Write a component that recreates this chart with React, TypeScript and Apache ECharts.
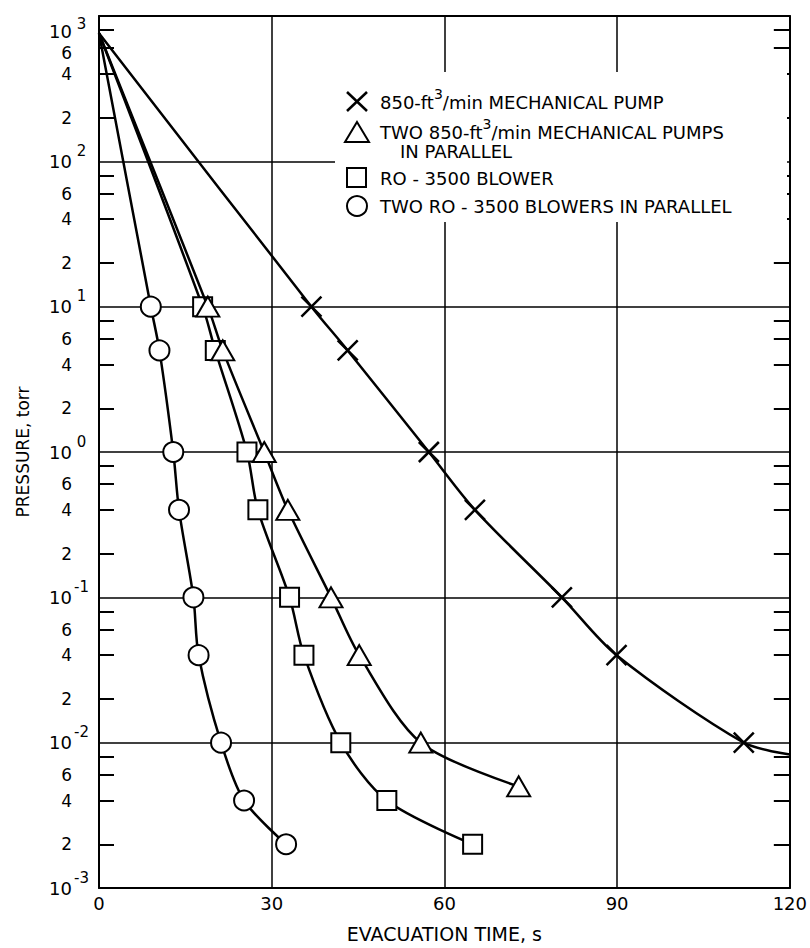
import React, { useEffect, useRef } from 'react';
import * as echarts from 'echarts';

// ---- data ----
const pumpTime = [0, 36.9, 43.2, 57.3, 65.3, 80.4, 89.9, 112, 120];
const pumpPressure = [760, 10, 5, 1, 0.4, 0.1, 0.04, 0.01, 0.0083];
const pumpUnmarked = [0, 8];

const twoPumpTime = [0, 18.9, 21.5, 28.7, 32.8, 40.3, 45.2, 55.9, 72.9];
const twoPumpPressure = [760, 10, 5, 1, 0.4, 0.1, 0.04, 0.01, 0.005];
const twoPumpUnmarked = [0];

const blowerTime = [0, 18.0, 20.2, 25.7, 27.6, 33.1, 35.6, 42.0, 50.0, 64.9];
const blowerPressure = [760, 10, 5, 1, 0.4, 0.1, 0.04, 0.01, 0.004, 0.002];
const blowerUnmarked = [0];

const twoBlowerTime = [0, 9.0, 10.5, 12.9, 13.9, 16.4, 17.3, 21.2, 25.2, 32.5];
const twoBlowerPressure = [760, 10, 5, 1, 0.4, 0.1, 0.04, 0.01, 0.004, 0.002];
const twoBlowerUnmarked = [0];

const decadeTicks = [0.001, 0.01, 0.1, 1, 10, 100, 1000];
const minorTicks = [
  0.002, 0.004, 0.006, 0.008,
  0.02, 0.04, 0.06, 0.08,
  0.2, 0.4, 0.6, 0.8,
  2, 4, 6, 8,
  20, 40, 60, 80,
  200, 400, 600, 800,
];
const mantissaLabels = [
  0.002, 0.004, 0.006,
  0.02, 0.04, 0.06,
  0.2, 0.4, 0.6,
  2, 4, 6,
  20, 40, 60,
  200, 400, 600,
];

const seriesNames = [
  '850-ft³/min MECHANICAL PUMP',
  'TWO 850-ft³/min MECHANICAL PUMPS IN PARALLEL',
  'RO - 3500 BLOWER',
  'TWO RO - 3500 BLOWERS IN PARALLEL',
];

const FONT = 'DejaVu Sans';
const X_PATH = 'path://M0,0L20,20M20,0L0,20';

function buildData(t: number[], p: number[], unmarked: number[]) {
  return t.map((x, i) =>
    unmarked.indexOf(i) >= 0 ? { value: [x, p[i]], symbol: 'none' } : { value: [x, p[i]] }
  );
}

function expOf(v: number) {
  return Math.round(Math.log10(v));
}

function mantissa(v: number) {
  return Math.round(v / Math.pow(10, Math.floor(Math.log10(v) + 1e-9)));
}

export default function App() {
  const ref = useRef<HTMLDivElement>(null);

  useEffect(() => {
    if (!ref.current) return;
    const chart = echarts.init(ref.current, null, { renderer: 'svg' });

    const lineBase = {
      type: 'line',
      smooth: 0.3,
      lineStyle: { color: '#000', width: 2.5 },
      itemStyle: { color: '#fff', borderColor: '#000', borderWidth: 2 },
      showSymbol: true,
      z: 3,
    };

    const legendText = {
      fill: '#000',
      fontFamily: FONT,
      fontSize: 18,
      lineHeight: 30,
      verticalAlign: 'middle',
      align: 'left',
      rich: {
        s: { fontSize: 14, lineHeight: 14, verticalAlign: 'top', fontFamily: FONT, fill: '#000' },
      },
    };
    const mk = { fill: '#fff', stroke: '#000', lineWidth: 2 };
    const LZ = 10;

    const supStyle = {
      fontSize: 15,
      lineHeight: 15,
      verticalAlign: 'top',
      width: 19,
      align: 'left',
      fontFamily: FONT,
      color: '#000',
    };

    const option: any = {
      animation: false,
      backgroundColor: '#fff',
      textStyle: { fontFamily: FONT, color: '#000' },
      grid: { left: 99, right: 3, top: 16, bottom: 57, containLabel: false },
      xAxis: [
        {
          type: 'value',
          min: 0,
          max: 120,
          interval: 30,
          position: 'bottom',
          axisLine: { show: true, onZero: false, lineStyle: { color: '#000', width: 2 } },
          axisTick: { show: false },
          splitLine: { show: true, lineStyle: { color: '#000', width: 1.5 } },
          axisLabel: { fontSize: 18, color: '#000', margin: 6, fontFamily: FONT },
          name: 'EVACUATION TIME, s',
          nameLocation: 'middle',
          nameGap: 36,
          nameTextStyle: { fontSize: 19, color: '#000', fontFamily: FONT },
        },
        {
          type: 'value',
          min: 0,
          max: 120,
          interval: 30,
          position: 'top',
          axisLine: { show: true, onZero: false, lineStyle: { color: '#000', width: 2 } },
          axisTick: { show: false },
          axisLabel: { show: false },
          splitLine: { show: false },
        },
      ],
      yAxis: [
        {
          type: 'log',
          logBase: 10,
          min: 0.001,
          max: 1000,
          position: 'left',
          axisLine: { show: true, onZero: false, lineStyle: { color: '#000', width: 2 } },
          axisTick: { show: false, customValues: decadeTicks },
          splitLine: { show: true, lineStyle: { color: '#000', width: 1.5 } },
          axisLabel: {
            customValues: decadeTicks,
            margin: 8,
            verticalAlignMaxLabel: 'top',
            formatter: (v: number) =>
              v >= 999 ? `{bt|10}{s|${expOf(v)}}` : `{b|10}{s|${expOf(v)}}`,
            rich: {
              b: { fontSize: 18, lineHeight: 36, fontFamily: FONT, color: '#000' },
              bt: { fontSize: 18, lineHeight: 31, fontFamily: FONT, color: '#000' },
              s: supStyle,
            },
          },
          name: 'PRESSURE, torr',
          nameLocation: 'middle',
          nameGap: 68,
          nameTextStyle: { fontSize: 17, color: '#000', fontFamily: FONT },
        },
        {
          type: 'log',
          logBase: 10,
          min: 0.001,
          max: 1000,
          position: 'left',
          axisLine: { show: false },
          splitLine: { show: false },
          axisTick: {
            show: true,
            inside: true,
            length: 15,
            customValues: minorTicks,
            lineStyle: { color: '#000', width: 2 },
          },
          axisLabel: {
            customValues: mantissaLabels,
            margin: 27,
            color: '#000',
            formatter: (v: number) =>
              v > 500 ? `{d|${mantissa(v)}}` : `{m|${mantissa(v)}}`,
            rich: {
              m: { fontSize: 17, fontFamily: FONT, color: '#000' },
              d: { fontSize: 17, fontFamily: FONT, color: '#000', padding: [10, 0, 0, 0] },
            },
          },
        },
        {
          type: 'log',
          logBase: 10,
          min: 0.001,
          max: 1000,
          position: 'right',
          axisLine: { show: true, onZero: false, lineStyle: { color: '#000', width: 2 } },
          splitLine: { show: false },
          axisTick: {
            show: true,
            inside: true,
            length: 16,
            customValues: minorTicks,
            lineStyle: { color: '#000', width: 2 },
          },
          axisLabel: { show: false },
        },
      ],
      series: [
        {
          ...lineBase,
          name: seriesNames[0],
          symbol: X_PATH,
          symbolSize: 20,
          itemStyle: { color: '#000', borderColor: '#000', borderWidth: 2.5 },
          data: buildData(pumpTime, pumpPressure, pumpUnmarked),
        },
        {
          ...lineBase,
          name: seriesNames[1],
          z: 4,
          symbol: 'triangle',
          symbolSize: [23, 20],
          data: buildData(twoPumpTime, twoPumpPressure, twoPumpUnmarked),
        },
        {
          ...lineBase,
          name: seriesNames[2],
          symbol: 'rect',
          symbolSize: 19,
          data: buildData(blowerTime, blowerPressure, blowerUnmarked),
        },
        {
          ...lineBase,
          name: seriesNames[3],
          symbol: 'circle',
          symbolSize: 20,
          data: buildData(twoBlowerTime, twoBlowerPressure, twoBlowerUnmarked),
        },
      ],
      graphic: {
        elements: [
          {
            type: 'rect',
            silent: true,
            z: 1,
            shape: { x: 335, y: 72, width: 452, height: 150 },
            style: { fill: '#fff' },
          },
          { type: 'line', z: LZ, shape: { x1: 347, y1: 92, x2: 367, y2: 111 }, style: { stroke: '#000', lineWidth: 2.5 } },
          { type: 'line', z: LZ, shape: { x1: 367, y1: 92, x2: 347, y2: 111 }, style: { stroke: '#000', lineWidth: 2.5 } },
          { type: 'text', z: LZ, x: 380, y: 102, style: { ...legendText, text: '850-ft{s|3}/min MECHANICAL PUMP' } },
          { type: 'polygon', z: LZ, shape: { points: [[357, 122], [369, 142], [345, 142]] }, style: mk },
          { type: 'text', z: LZ, x: 380, y: 132, style: { ...legendText, text: 'TWO 850-ft{s|3}/min MECHANICAL PUMPS' } },
          { type: 'text', z: LZ, x: 400, y: 151, style: { ...legendText, text: 'IN PARALLEL' } },
          { type: 'rect', z: LZ, shape: { x: 347, y: 168, width: 19, height: 19 }, style: mk },
          { type: 'text', z: LZ, x: 380, y: 178, style: { ...legendText, text: 'RO - 3500 BLOWER' } },
          { type: 'circle', z: LZ, shape: { cx: 357, cy: 206, r: 10 }, style: mk },
          { type: 'text', z: LZ, x: 380, y: 206, style: { ...legendText, text: 'TWO RO - 3500 BLOWERS IN PARALLEL' } },
        ],
      },
    };

    chart.setOption(option);
    return () => chart.dispose();
  }, []);

  return (
    <div
      ref={ref}
      style={{ position: 'fixed', left: 0, top: 0, width: 810, height: 948, background: '#fff' }}
    />
  );
}
